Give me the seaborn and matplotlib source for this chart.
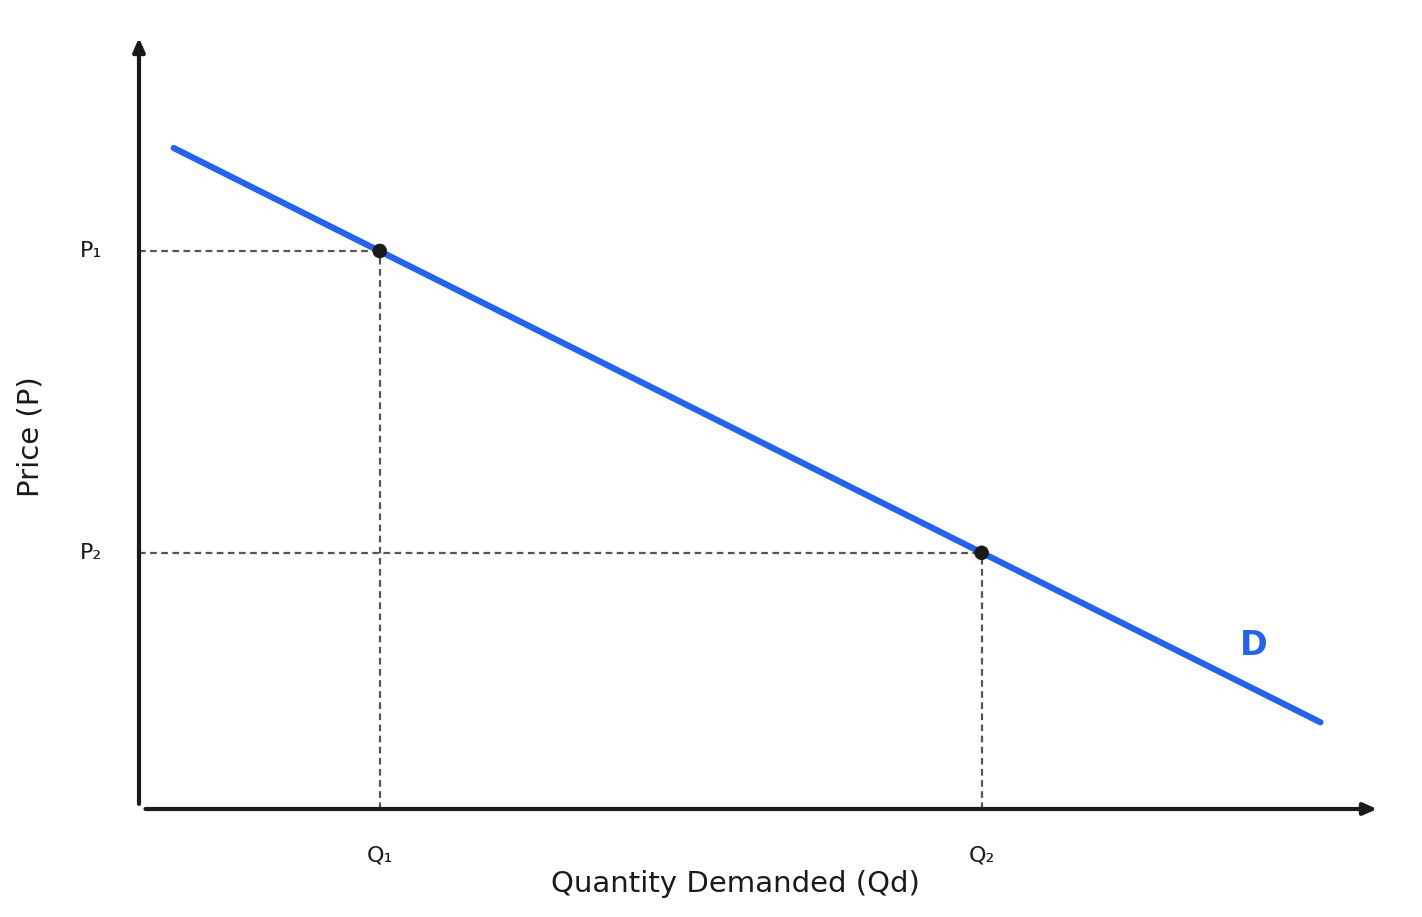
import matplotlib
matplotlib.use("Agg")
import matplotlib.pyplot as plt
import seaborn as sns
import pandas as pd

sns.set_style("white")
plt.rcParams['font.family'] = ['DejaVu Sans']

demand_q = [0.28, 9.52]
demand_p = [8.54, 1.12]
point_q = [1.94, 6.79]
point_p = [7.21, 3.31]
q_labels = ["Q₁", "Q₂"]
p_labels = ["P₁", "P₂"]

W, H = 1422, 917
fig = plt.figure(figsize=(W/100, H/100), dpi=100)
ax = fig.add_axes([139/W, (H-809)/H, (1380-139)/W, (809-35)/H])
ax.set_xlim(0, 10); ax.set_ylim(0, 10)
for s in ax.spines.values():
    s.set_visible(False)
ax.set_xticks([]); ax.set_yticks([])

# axes arrows
ax.annotate("", xy=(10, 0), xytext=(0.03, 0), xycoords='data',
            arrowprops=dict(arrowstyle="-|>,head_length=0.8,head_width=0.35", color="#1a1a1a", lw=3), annotation_clip=False)
ax.annotate("", xy=(0, 10), xytext=(0, 0.03),
            arrowprops=dict(arrowstyle="-|>,head_length=0.8,head_width=0.35", color="#1a1a1a", lw=3), annotation_clip=False)

# dashed guides
for q, p in zip(point_q, point_p):
    ax.plot([0, q], [p, p], ls=(0, (3, 2)), color="#555555", lw=1.6)
    ax.plot([q, q], [0, p], ls=(0, (3, 2)), color="#555555", lw=1.6)

df = pd.DataFrame({"q": demand_q, "p": demand_p})
sns.lineplot(data=df, x="q", y="p", ax=ax, color="#2563eb", lw=4.5)
sns.scatterplot(x=point_q, y=point_p, ax=ax, color="#1a1a1a", s=110, zorder=5, edgecolor="none")

for q, lab in zip(point_q, q_labels):
    ax.text(q, -0.6, lab, ha="center", va="center", fontsize=16, color="#1a1a1a")
for p, lab in zip(point_p, p_labels):
    ax.text(-0.3, p, lab, ha="right", va="center", fontsize=16, color="#1a1a1a")

ax.text(8.98, 2.11, "D", ha="center", va="center", fontsize=24, fontweight="bold", color="#2563eb")

ax.set_xlabel(""); ax.set_ylabel("")
fig.text(735/W, 1-884/H, "Quantity Demanded (Qd)", ha="center", va="center", fontsize=21, color="#1a1a1a")
fig.text(30/W, 1-437/H, "Price (P)", ha="center", va="center", fontsize=21, rotation=90, color="#1a1a1a")

fig.savefig("out.png", dpi=100, facecolor="white")
